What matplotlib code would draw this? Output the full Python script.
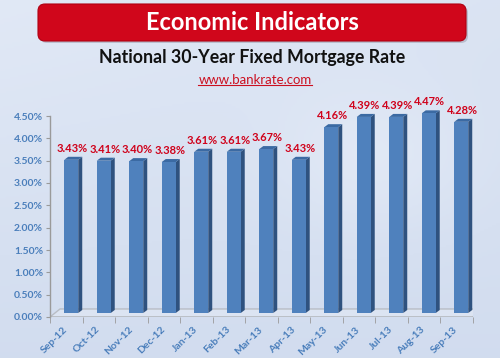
import numpy as np
import matplotlib
matplotlib.use("Agg")
import matplotlib.pyplot as plt
from matplotlib.patches import FancyBboxPatch, Polygon
from matplotlib.lines import Line2D
from matplotlib.transforms import Affine2D, IdentityTransform
from matplotlib.colors import LinearSegmentedColormap
from matplotlib.ticker import FuncFormatter

months = ["Sep-12", "Oct-12", "Nov-12", "Dec-12", "Jan-13", "Feb-13", "Mar-13",
          "Apr-13", "May-13", "Jun-13", "Jul-13", "Aug-13", "Sep-13"]
rates = [3.43, 3.41, 3.40, 3.38, 3.61, 3.61, 3.67, 3.43, 4.16, 4.39, 4.39, 4.47, 4.28]

banner = "Economic Indicators"
title = "National 30-Year Fixed Mortgage Rate"
source = "www.bankrate.com"

plt.rcParams['font.family'] = ['Lato', 'DejaVu Sans']

W, H = 500, 358
fig = plt.figure(figsize=(W / 100, H / 100), dpi=100)

# background gradient
bg = fig.add_axes([0, 0, 1, 1], zorder=-10)
bg.axis('off')
yy, xx = np.mgrid[0:1:180j, 0:1:250j]
shade = 0.45 + 0.35 * (1 - yy) * (1 - 0.4 * xx) + 0.2 * np.exp(-((xx - 0.75) ** 2 + (yy - 0.45) ** 2) / 0.04)
bg_cmap = LinearSegmentedColormap.from_list("bg", ["#bfcde6", "#d6e0f1", "#eef3fb"])
bg.imshow(shade, cmap=bg_cmap, aspect='auto', extent=[0, 1, 0, 1], vmin=0, vmax=1.1)

# red banner
shadow = FancyBboxPatch((40, H - 43), 428, 37, boxstyle="round,pad=0,rounding_size=7",
                        transform=IdentityTransform(), facecolor="#7a7a8a", alpha=0.35,
                        edgecolor="none", zorder=1)
fig.patches.append(shadow)
box = FancyBboxPatch((38, H - 41), 428, 37, boxstyle="round,pad=0,rounding_size=7",
                     transform=IdentityTransform(), facecolor="#d0061b",
                     edgecolor="#b00012", linewidth=0.8, zorder=2)
fig.patches.append(box)
fig.text(252 / W, 1 - 22 / H, banner, color="white", fontsize=17, fontweight="bold",
         ha="center", va="center", zorder=3)
fig.text(252 / W, 1 - 58 / H, title, color="#111111", fontsize=12.8, fontweight="bold",
         ha="center", va="center")
src = fig.text(255 / W, 1 - 80 / H, source, color="#cc1020", fontsize=9.5,
               ha="center", va="center")

# chart axes
ax = fig.add_axes([50 / W, 41 / H, 422.5 / W, 201 / H])
ax.patch.set_alpha(0)
ax.set_xlim(-0.5, len(months) - 0.5)
ax.set_ylim(0, 4.5)
for s in ["top", "right", "bottom"]:
    ax.spines[s].set_visible(False)
ax.spines["left"].set_color("#9a9a9a")
ax.spines["left"].set_linewidth(1)

ax.set_yticks(np.arange(0, 4.51, 0.5))
ax.yaxis.set_major_formatter(FuncFormatter(lambda v, p: f"{v:.2f}%"))
ax.tick_params(axis="y", length=3, color="#9a9a9a", labelcolor="#4a7ebb", labelsize=7.5, pad=2)
for lab in ax.get_yticklabels():
    lab.set_fontweight("bold")

x = np.arange(len(months))
ax.set_xticks(x)
ax.set_xticklabels(months, rotation=45, ha="right", va="center", rotation_mode="anchor",
                   color="#4a7ebb", fontsize=7.5, fontweight="bold")
ax.tick_params(axis="x", which="major", length=0, pad=8)
ax.set_xticks(np.arange(-0.5, len(months), 1.0), minor=True)
ax.tick_params(axis="x", which="minor", length=4, color="#9a9a9a", direction="out")

# floor of the 3D plot
tr = ax.transData
fl, fr = tr.transform((-0.5, 0)), tr.transform((len(months) - 0.5, 0))
depth = np.array([10, 8])
floor = Polygon([fl, fr, fr + depth, fl + depth], closed=True, transform=IdentityTransform(),
                facecolor="#e6ecf6", alpha=0.5, edgecolor="#9a9a9a", linewidth=1, zorder=1)
ax.add_patch(floor)
ax.add_line(Line2D([fl[0], fr[0]], [fl[1], fr[1]], transform=IdentityTransform(),
                   color="#9a9a9a", linewidth=1, zorder=1))

# 3D bars: front face shifted half the floor depth, plus side and top faces
shift = Affine2D().translate(5, 4)
bw = 0.43
bd = np.array([4, 3])
ax.bar(x, rates, width=bw, color="#4f81bd", edgecolor="none", transform=tr + shift,
       zorder=3, clip_on=False)
for xi, v in zip(x, rates):
    br = tr.transform((xi + bw / 2, 0)) + [5, 4]
    tl = tr.transform((xi - bw / 2, v)) + [5, 4]
    trt = tr.transform((xi + bw / 2, v)) + [5, 4]
    ax.add_patch(Polygon([br, trt, trt + bd, br + bd], closed=True, transform=IdentityTransform(),
                         facecolor="#2f527f", edgecolor="none", zorder=2, clip_on=False))
    ax.add_patch(Polygon([tl, trt, trt + bd, tl + bd], closed=True, transform=IdentityTransform(),
                         facecolor="#3b6aa3", edgecolor="none", zorder=2, clip_on=False))
    ax.annotate(f"{v:.2f}%", (xi, v), xytext=(6, 12), textcoords="offset pixels",
                ha="center", va="baseline", color="#d0021b", fontsize=8, fontweight="bold",
                zorder=4, annotation_clip=False)

# underline the source link
fig.canvas.draw()
bb = src.get_window_extent()
fig.add_artist(Line2D([bb.x0, bb.x1], [bb.y0 + 1, bb.y0 + 1], transform=IdentityTransform(),
                      color="#cc1020", linewidth=0.8))

fig.savefig("out.png", dpi=100)
